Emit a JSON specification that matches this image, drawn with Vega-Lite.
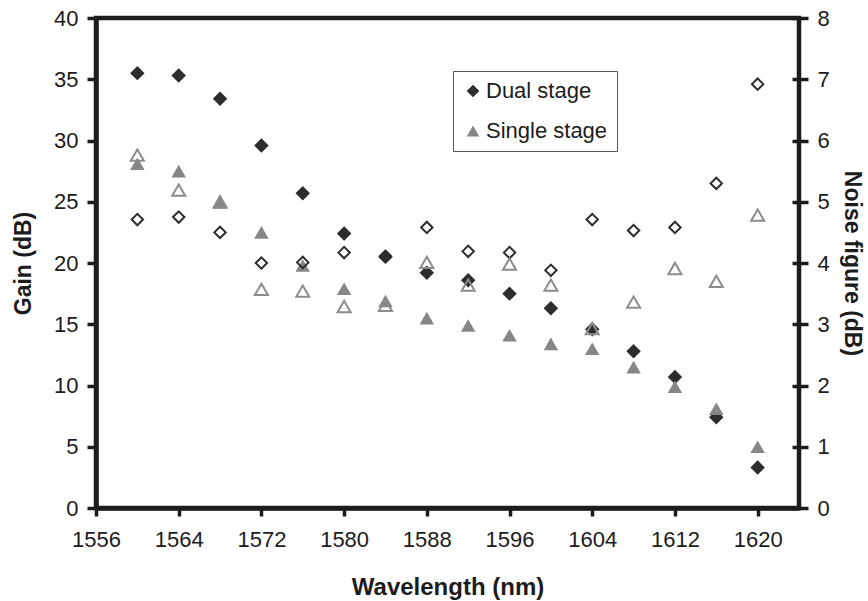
{
  "$schema": "https://vega.github.io/schema/vega-lite/v6.json",
  "width": 703,
  "height": 490,
  "autosize": "none",
  "padding": {"left": 96, "top": 18, "right": 69, "bottom": 93},
  "background": "white",
  "view": {"stroke": "#1c1c1c", "strokeWidth": 4.5},
  "config": {
    "font": "Liberation Sans",
    "view": {"stroke": "#1c1c1c", "strokeWidth": 4.5},
    "axis": {
      "domain": false,
      "grid": false,
      "tickColor": "#1c1c1c",
      "tickWidth": 3.5,
      "labelColor": "#1c1c1c",
      "labelFontSize": 22,
      "labelFont": "Liberation Sans",
      "labelFlush": false,
      "labelOverlap": false,
      "labelBound": false,
      "titleColor": "#1c1c1c",
      "titleFont": "Liberation Sans",
      "titleFontSize": 23,
      "titleFontWeight": "bold"
    }
  },
  "data": {
    "values": [
      {"wl": 1560, "series": "Dual stage", "gain": 35.5, "nf": 4.71},
      {"wl": 1564, "series": "Dual stage", "gain": 35.3, "nf": 4.75},
      {"wl": 1568, "series": "Dual stage", "gain": 33.4, "nf": 4.50},
      {"wl": 1572, "series": "Dual stage", "gain": 29.6, "nf": 4.00},
      {"wl": 1576, "series": "Dual stage", "gain": 25.7, "nf": 4.01},
      {"wl": 1580, "series": "Dual stage", "gain": 22.4, "nf": 4.17},
      {"wl": 1584, "series": "Dual stage", "gain": 20.5, "nf": 4.11},
      {"wl": 1588, "series": "Dual stage", "gain": 19.2, "nf": 4.58},
      {"wl": 1592, "series": "Dual stage", "gain": 18.6, "nf": 4.19},
      {"wl": 1596, "series": "Dual stage", "gain": 17.5, "nf": 4.17},
      {"wl": 1600, "series": "Dual stage", "gain": 16.3, "nf": 3.88},
      {"wl": 1604, "series": "Dual stage", "gain": 14.6, "nf": 4.71},
      {"wl": 1608, "series": "Dual stage", "gain": 12.8, "nf": 4.53},
      {"wl": 1612, "series": "Dual stage", "gain": 10.7, "nf": 4.58},
      {"wl": 1616, "series": "Dual stage", "gain": 7.4, "nf": 5.30},
      {"wl": 1620, "series": "Dual stage", "gain": 3.3, "nf": 6.92},
      {"wl": 1560, "series": "Single stage", "gain": 28.1, "nf": 5.76},
      {"wl": 1564, "series": "Single stage", "gain": 27.5, "nf": 5.19},
      {"wl": 1568, "series": "Single stage", "gain": 24.95, "nf": 5.0},
      {"wl": 1572, "series": "Single stage", "gain": 22.5, "nf": 3.57},
      {"wl": 1576, "series": "Single stage", "gain": 19.8, "nf": 3.54},
      {"wl": 1580, "series": "Single stage", "gain": 17.9, "nf": 3.29},
      {"wl": 1584, "series": "Single stage", "gain": 16.9, "nf": 3.31},
      {"wl": 1588, "series": "Single stage", "gain": 15.5, "nf": 4.01},
      {"wl": 1592, "series": "Single stage", "gain": 14.9, "nf": 3.64},
      {"wl": 1596, "series": "Single stage", "gain": 14.1, "nf": 3.98},
      {"wl": 1600, "series": "Single stage", "gain": 13.4, "nf": 3.64},
      {"wl": 1604, "series": "Single stage", "gain": 13.0, "nf": 2.93},
      {"wl": 1608, "series": "Single stage", "gain": 11.5, "nf": 3.36},
      {"wl": 1612, "series": "Single stage", "gain": 9.9, "nf": 3.91},
      {"wl": 1616, "series": "Single stage", "gain": 8.1, "nf": 3.70},
      {"wl": 1620, "series": "Single stage", "gain": 5.0, "nf": 4.78}
    ]
  },
  "layer": [
    {
      "mark": {"type": "point", "filled": true, "size": 210, "opacity": 1, "strokeWidth": 0},
      "encoding": {
        "x": {
          "field": "wl", "type": "quantitative",
          "scale": {"domain": [1556, 1624], "nice": false, "zero": false},
          "axis": {
            "values": [1556, 1564, 1572, 1580, 1588, 1596, 1604, 1612, 1620],
            "format": "d",
            "domain": true,
            "domainColor": "#1c1c1c",
            "domainWidth": 4.5,
            "tickSize": 8,
            "labelPadding": 13,
            "title": "Wavelength (nm)",
            "titleFontSize": 24,
            "titleX": 351.5,
            "titleY": 67,
            "titleBaseline": "top",
            "titleAlign": "center"
          }
        },
        "y": {
          "field": "gain", "type": "quantitative",
          "scale": {"domain": [0, 40], "nice": false},
          "axis": {
            "orient": "left",
            "values": [0, 5, 10, 15, 20, 25, 30, 35, 40],
            "domain": true,
            "domainColor": "#1c1c1c",
            "domainWidth": 4.5,
            "tickSize": 9,
            "labelPadding": 9,
            "title": "Gain (dB)",
            "titleAngle": -90,
            "titleX": -73,
            "titleY": 245,
            "titleBaseline": "middle",
            "titleAlign": "center"
          }
        },
        "color": {
          "field": "series", "type": "nominal",
          "scale": {"domain": ["Dual stage", "Single stage"], "range": ["#2d2d2d", "#868686"]},
          "legend": {
            "title": null, "orient": "none", "legendX": 357, "legendY": 53,
            "strokeColor": "#555555", "padding": 9, "symbolSize": 160,
            "symbolStrokeWidth": 0, "labelFontSize": 22, "labelColor": "#1c1c1c",
            "labelOffset": 2, "rowPadding": 18, "fillColor": "white"
          }
        },
        "shape": {
          "field": "series", "type": "nominal",
          "scale": {"domain": ["Dual stage", "Single stage"], "range": ["diamond", "triangle-up"]},
          "legend": {
            "title": null, "orient": "none", "legendX": 357, "legendY": 53,
            "strokeColor": "#555555", "padding": 9, "symbolSize": 160,
            "symbolStrokeWidth": 0, "labelFontSize": 22, "labelColor": "#1c1c1c",
            "labelOffset": 2, "rowPadding": 18, "fillColor": "white"
          }
        }
      }
    },
    {
      "mark": {"type": "point", "filled": false, "strokeWidth": 2, "opacity": 1},
      "encoding": {
        "x": {"field": "wl", "type": "quantitative"},
        "y": {
          "field": "nf", "type": "quantitative",
          "scale": {"domain": [0, 8], "nice": false},
          "axis": {
            "orient": "right",
            "values": [0, 1, 2, 3, 4, 5, 6, 7, 8],
            "offset": -7,
            "tickSize": 16,
            "labelPadding": 9,
            "title": "Noise figure (dB)",
            "titleAngle": 90,
            "titleX": 59,
            "titleY": 245,
            "titleBaseline": "middle",
            "titleAlign": "center"
          }
        },
        "shape": {"condition": {"test": "datum.series === 'Dual stage'", "value": "diamond"}, "value": "triangle-up"},
        "stroke": {"condition": {"test": "datum.series === 'Dual stage'", "value": "#2d2d2d"}, "value": "#8c8c8c"},
        "size": {"condition": {"test": "datum.series === 'Dual stage'", "value": 130}, "value": 170}
      }
    }
  ],
  "resolve": {"scale": {"y": "independent"}}
}
